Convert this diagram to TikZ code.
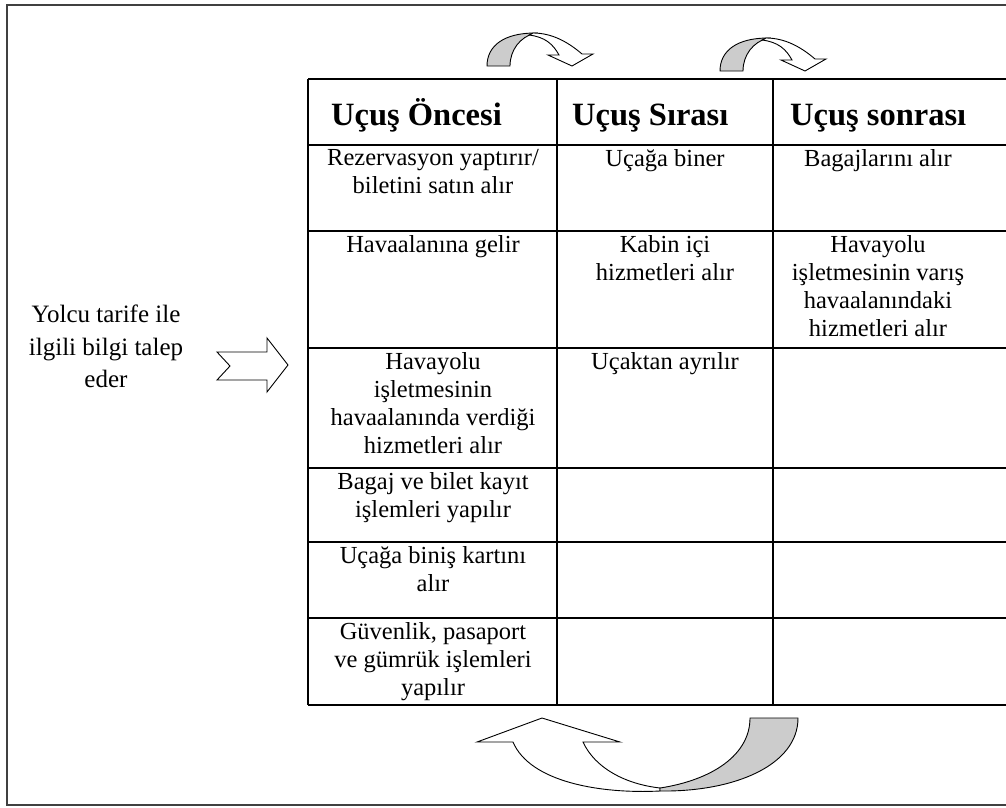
\documentclass[tikz,border=0pt]{standalone}
\usepackage{fontspec}
\setmainfont{Liberation Serif}
\begin{document}
\begin{tikzpicture}[x=1pt,y=-1pt,
  frame/.style={draw=black!75,line width=2.2pt},
  grid/.style={draw=black,line width=1.3pt},
  cell/.style={anchor=north,align=center,inner sep=0pt,font=\fontsize{24.5}{28}\selectfont},
  head/.style={anchor=base west,inner sep=0pt,font=\fontsize{32.5}{36}\selectfont\bfseries},
  side/.style={anchor=north,align=center,inner sep=0pt,font=\fontsize{25}{32.5}\selectfont},
  blockarrow/.style={draw=black,line width=0.9pt,fill=white,line join=miter},
  shade/.style={draw=black,line width=0.9pt,fill=black!20,line join=miter}]
\useasboundingbox (0,0) rectangle (1006,807);

% outer frame
\draw[frame] (1015,5) -- (7,5) -- (7,805) -- (1015,805);

% table grid
\foreach \y in {79,145,231,348,468,542,618,705}
  \draw[grid] (308,\y) -- (1015,\y);
\foreach \x in {308,557,773}
  \draw[grid] (\x,79) -- (\x,705);

% column headings
\node[head] (h1) at (331,125) {Uçuş Öncesi};
\node[head] (h2) at (572,125) {Uçuş Sırası};
\node[head] (h3) at (790,125) {Uçuş sonrası};

% first column
\node[cell] (a1) at (433,149) {Rezervasyon yaptırır/\\biletini satın alır};
\node[cell] (a2) at (433,235) {Havaalanına gelir};
\node[cell] (a3) at (433,352) {Havayolu\\işletmesinin\\havaalanında verdiği\\hizmetleri alır};
\node[cell] (a4) at (433,472) {Bagaj ve bilet kayıt\\işlemleri yapılır};
\node[cell] (a5) at (433,546) {Uçağa biniş kartını\\alır};
\node[cell] (a6) at (433,622) {Güvenlik, pasaport\\ve gümrük işlemleri\\yapılır};

% second column
\node[cell] (b1) at (665,149) {Uçağa biner};
\node[cell] (b2) at (665,235) {Kabin içi\\hizmetleri alır};
\node[cell] (b3) at (665,352) {Uçaktan ayrılır};

% third column
\node[cell] (c1) at (878,149) {Bagajlarını alır};
\node[cell] (c2) at (878,235) {Havayolu\\işletmesinin varış\\havaalanındaki\\hizmetleri alır};

% request text and notched arrow
\node[side] (req) at (106,305) {Yolcu tarife ile\\ilgili bilgi talep\\eder};
\draw[blockarrow] (217,352) -- (267,352) -- (267,338) -- (288,365) -- (267,392)
  -- (267,380) -- (217,380) -- (230,366) -- cycle;

% curved arrows above the table
\foreach \dx/\dy in {0/0,233/5}{
  \begin{scope}[shift={(\dx,\dy)}]
    \draw[shade] (487,66) .. controls (487,45) and (505,33) .. (535,33)
      .. controls (520,37) and (510,50) .. (510,66) -- cycle;
    \draw[blockarrow] (533,33) .. controls (552,33) and (568,42) .. (582,54)
      -- (593,54) -- (572,66) -- (548,55) -- (559,55)
      .. controls (553,44) and (545,37) .. (529,35) -- cycle;
  \end{scope}
}

% curved return arrow below the table
\draw[blockarrow] (513,742) .. controls (530,782) and (600,794) .. (660,791)
  -- (660,788) .. controls (625,784) and (595,768) .. (583,742)
  -- (620,742) -- (542,718) -- (477,742) -- cycle;
\draw[shade] (660,788) .. controls (712,780) and (750,755) .. (750,718)
  -- (798,718) .. controls (798,765) and (735,792) .. (660,791) -- cycle;
\end{tikzpicture}
\end{document}
